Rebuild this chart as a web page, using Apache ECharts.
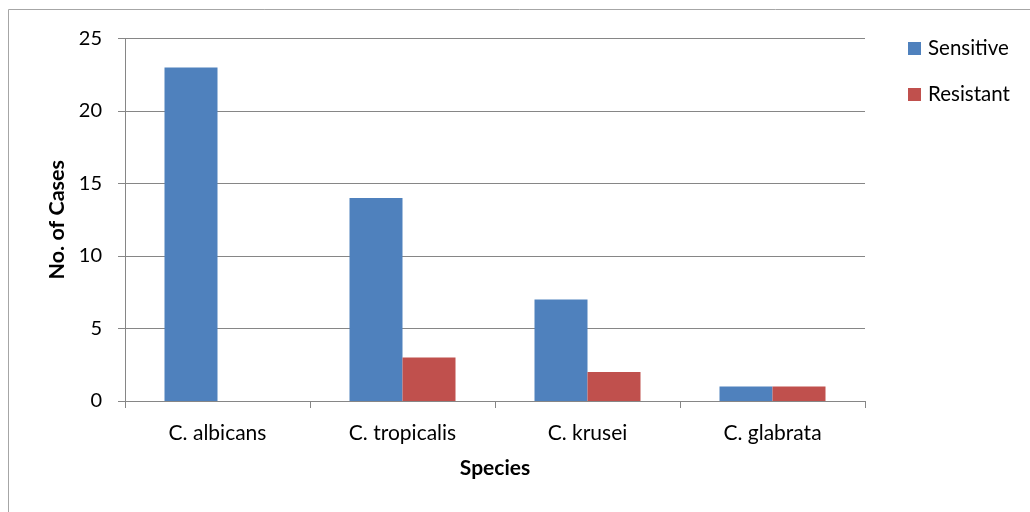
<!DOCTYPE html>
<html>
<head>
<meta charset="utf-8">
<script src="https://cdn.jsdelivr.net/npm/echarts@6/dist/echarts.min.js"></script>
<style>
html,body{margin:0;padding:0;background:#fff;}
#chart{width:1030px;height:512px;}
</style>
</head>
<body>
<div id="chart"></div>
<script>
var categories = ['C. albicans', 'C. tropicalis', 'C. krusei', 'C. glabrata'];
var sensitive = [23, 14, 7, 1];
var resistant = [0, 3, 2, 1];
var yTicks = [0, 5, 10, 15, 20, 25];

var font = 'Lato, "Open Sans", sans-serif';
var chart = echarts.init(document.getElementById('chart'), null, {renderer: 'canvas'});
chart.setOption({
  animation: false,
  backgroundColor: '#fff',
  graphic: [{
    type: 'rect',
    shape: {x: 8.5, y: 9.5, width: 1100, height: 600},
    style: {fill: 'none', stroke: '#a6a6a6', lineWidth: 1},
    silent: true,
    z: -1
  }],
  grid: {left: 125, right: 165, top: 38.5, bottom: 111, containLabel: false},
  legend: {
    orient: 'vertical',
    left: 903,
    top: 33,
    itemWidth: 13,
    itemHeight: 13,
    itemGap: 25,
    icon: 'rect',
    textStyle: {fontFamily: font, fontSize: 20.5, color: '#000', padding: [0, 0, 0, 2]},
    data: ['Sensitive', 'Resistant']
  },
  xAxis: {
    type: 'category',
    data: categories,
    name: 'Species',
    nameLocation: 'middle',
    nameGap: 57,
    nameTextStyle: {fontFamily: font, fontSize: 21, fontWeight: 'bold', color: '#000'},
    axisLine: {lineStyle: {color: '#868686', width: 1}},
    axisTick: {show: true, length: 7, lineStyle: {color: '#868686'}},
    axisLabel: {fontFamily: font, fontSize: 21, color: '#000', margin: 22}
  },
  yAxis: {
    type: 'value',
    min: 0,
    max: 25,
    interval: 5,
    name: 'No. of Cases',
    nameLocation: 'middle',
    nameGap: 50,
    nameTextStyle: {fontFamily: font, fontSize: 21.5, fontWeight: 'bold', color: '#000'},
    axisLine: {show: true, lineStyle: {color: '#868686', width: 1}},
    axisTick: {show: true, length: 7, lineStyle: {color: '#868686'}},
    axisLabel: {fontFamily: font, fontSize: 20, color: '#000', margin: 23,
      formatter: function (v) { return yTicks.indexOf(v) >= 0 ? String(v) : ''; }},
    splitLine: {show: true, lineStyle: {color: '#868686', width: 1}}
  },
  series: [
    {name: 'Sensitive', type: 'bar', data: sensitive, barGap: '0%', barCategoryGap: '42.7%',
     itemStyle: {color: '#4F81BD'}},
    {name: 'Resistant', type: 'bar', data: resistant, barGap: '0%', barCategoryGap: '42.7%',
     itemStyle: {color: '#C0504D'}}
  ]
});
</script>
</body>
</html>
